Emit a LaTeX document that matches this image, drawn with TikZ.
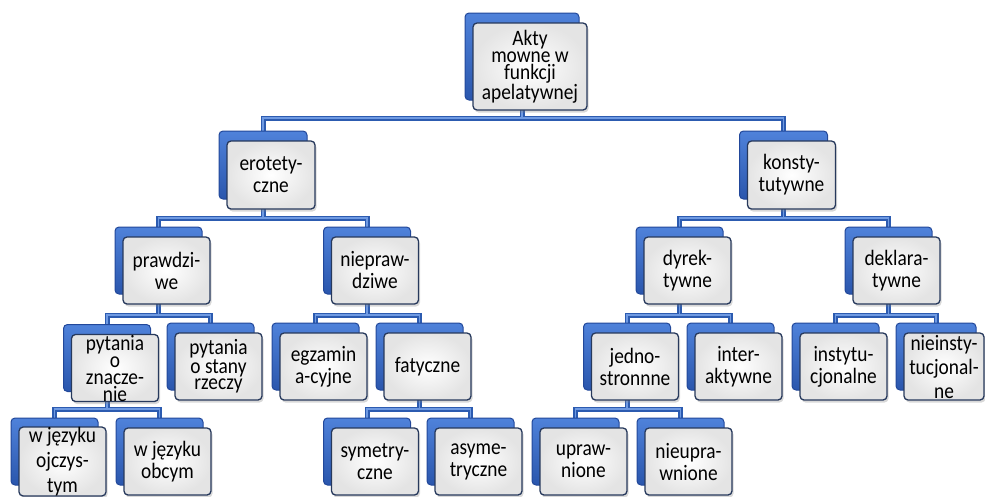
\documentclass[tikz,border=0pt]{standalone}
\usepackage{fontspec}
\setmainfont[FakeStretch=0.88]{Carlito}
\usetikzlibrary{calc,shadows,backgrounds}

\definecolor{backtop}{HTML}{4F82DA}
\definecolor{backbot}{HTML}{2A56AD}
\definecolor{backedge}{HTML}{22489A}
\definecolor{frontedge}{HTML}{27395C}
\definecolor{frontgray}{HTML}{E4E4E4}
\definecolor{connout}{HTML}{2C5BB0}
\definecolor{connin}{HTML}{6F9AE2}

% one chart box: a blue card behind, a white bevelled card in front
\newcommand\orgnode[5][]{%
  \node[backbox,#1] (#2-b) at ($(#3,#4)+(-8,-10)$) {};
  \node[frontbox,#1] (#2) at (#3,#4) {#5};}

\begin{document}
\begin{tikzpicture}[x=1pt,y=-1pt,
  backbox/.style={draw=backedge, line width=1pt, rounded corners=4pt,
    top color=backtop, bottom color=backbot,
    minimum width=87pt, minimum height=67pt, inner sep=0pt},
  frontbox/.style={draw=frontedge, line width=1.3pt, rounded corners=4pt,
    inner color=white, outer color=frontgray,
    drop shadow={shadow xshift=1.5pt, shadow yshift=-2.5pt, opacity=0.3},
    minimum width=87pt, minimum height=67pt, inner sep=0pt, align=center,
    font=\fontsize{22}{22}\selectfont},
]
\useasboundingbox (0,0) rectangle (985,496);
\clip (0,0) rectangle (985,496);

% level 0
\orgnode[minimum width=114pt, minimum height=87pt, font=\fontsize{22}{17}\selectfont]{root}{530}{66.5}{Akty\\mowne w\\funkcji\\apelatywnej}
% level 1
\orgnode[minimum width=88pt, minimum height=68pt]{ero}{271}{175}{erotety-\\czne}
\orgnode[minimum width=88pt, minimum height=68pt]{kon}{791.5}{175}{konsty-\\tutywne}
% level 2
\orgnode{praw}{166.5}{270.5}{prawdzi-\\we}
\orgnode{niep}{375}{270.5}{niepraw-\\dziwe}
\orgnode{dyr}{687.5}{270.5}{dyrek-\\tywne}
\orgnode{dek}{896.5}{270.5}{deklara-\\tywne}
% level 3
\orgnode[font=\fontsize{22}{17}\selectfont]{pyz}{115}{368}{pytania\\o\\znacze-\\nie}
\orgnode[font=\fontsize{22}{16.5}\selectfont]{pys}{218.5}{366.5}{pytania\\o stany\\rzeczy}
\orgnode{egz}{323.5}{366.5}{egzamin\\a-cyjne}
\orgnode{fat}{427.5}{366.5}{fatyczne}
\orgnode{jed}{635}{366.5}{jedno-\\stronnne}
\orgnode{int}{738.5}{366.5}{inter-\\aktywne}
\orgnode{ins}{843.5}{366.5}{instytu-\\cjonalne}
\orgnode[minimum width=80pt, font=\fontsize{22}{24}\selectfont]{nins}{944}{366.5}{nieinsty-\\tucjonal-\\ne}
% level 4
\orgnode[font=\fontsize{22}{25}\selectfont]{ojc}{62.5}{461.5}{w języku\\ojczys-\\tym}
\orgnode{obc}{167.5}{461.5}{w języku\\obcym}
\orgnode{sym}{375}{461.5}{symetry-\\czne}
\orgnode{asym}{478.5}{461.5}{asyme-\\tryczne}
\orgnode{upr}{583.5}{461.5}{upraw-\\nione}
\orgnode{nupr}{688.5}{461.5}{nieupra-\\wnione}

% heights of the horizontal bus lines
\coordinate (bar0) at (0,118);
\coordinate (bar1) at (0,218);
\coordinate (bar2) at (0,315);
\coordinate (bar3) at (0,409);

\begin{pgfonlayer}{background}
  \fill[white] (0,0) rectangle (985,496);
  % two passes: dark outer stroke, then light inner stroke
  \foreach \w/\col in {5/connout, 1.8/connin} {
    \foreach \p/\c/\b in {root/ero/bar0, root/kon/bar0,
        ero/praw/bar1, ero/niep/bar1, kon/dyr/bar1, kon/dek/bar1,
        praw/pyz/bar2, praw/pys/bar2, niep/egz/bar2, niep/fat/bar2,
        dyr/jed/bar2, dyr/int/bar2, dek/ins/bar2, dek/nins/bar2,
        pyz/ojc/bar3, pyz/obc/bar3, fat/sym/bar3, fat/asym/bar3,
        jed/upr/bar3, jed/nupr/bar3} {
      \draw[line width=\w pt, draw=\col] (\p-b.south) -- (\p-b.south |- \b) -| (\c-b.north);
    }
  }
\end{pgfonlayer}
\end{tikzpicture}
\end{document}
